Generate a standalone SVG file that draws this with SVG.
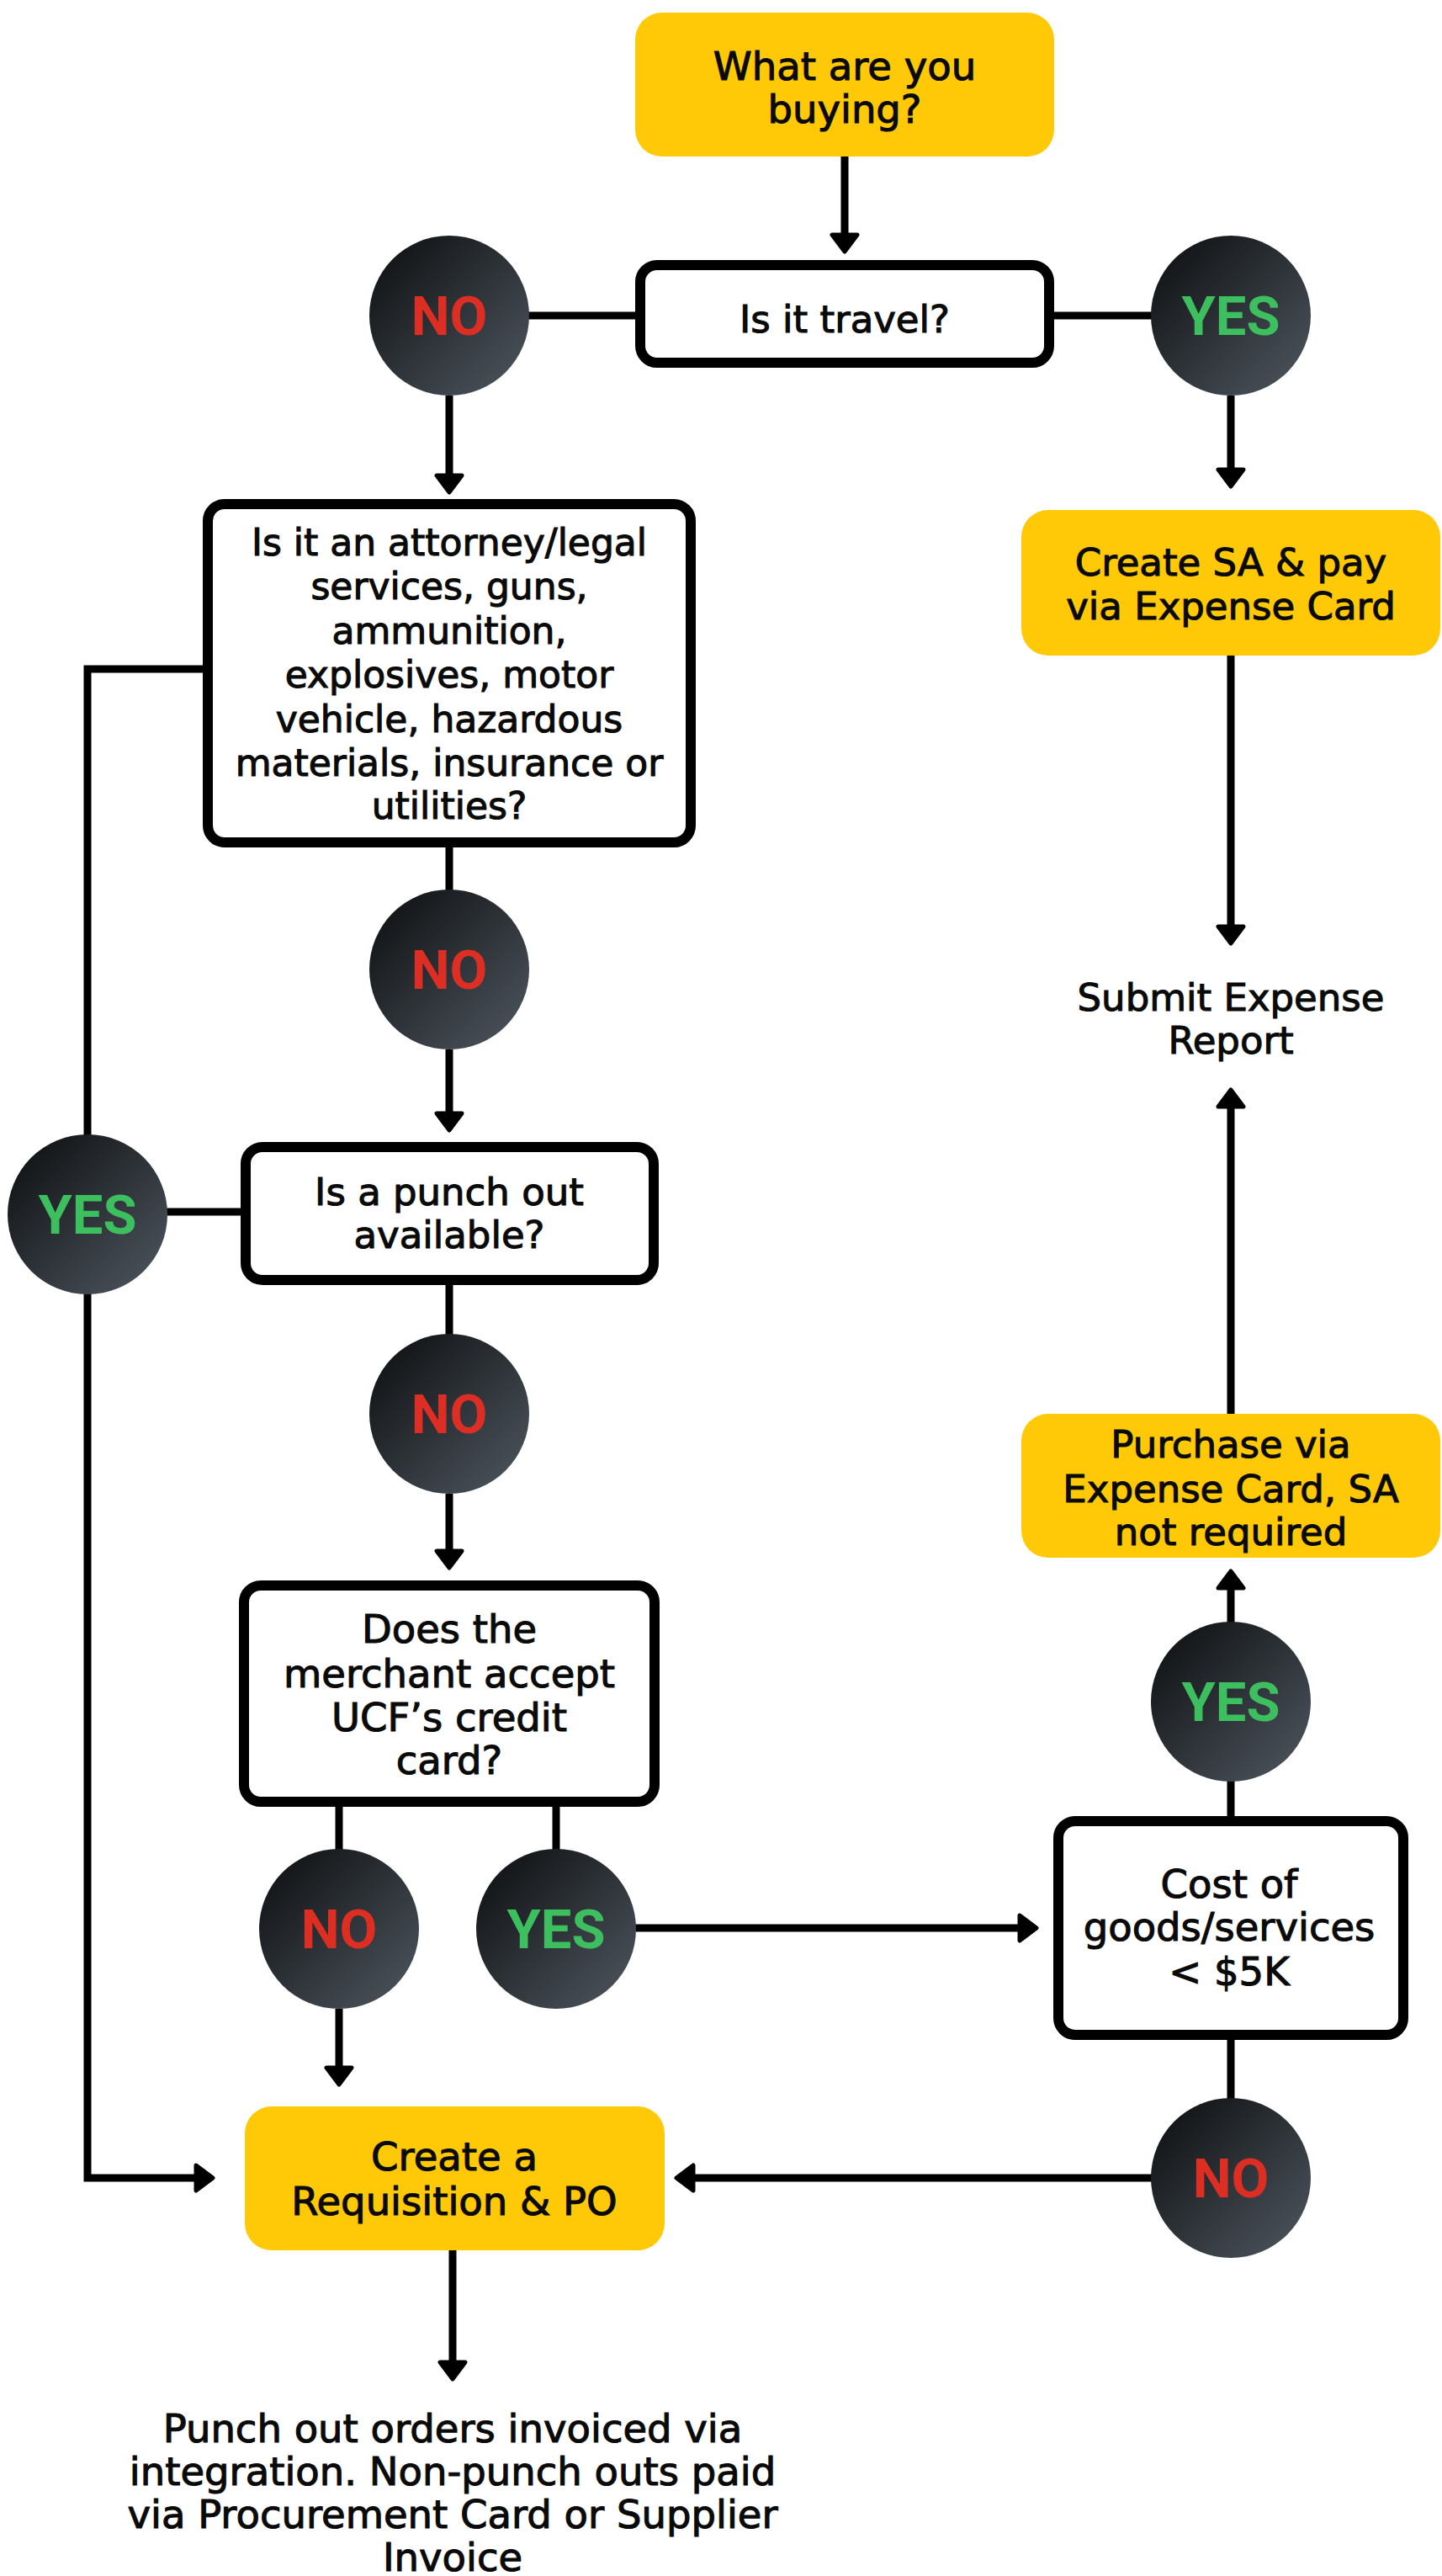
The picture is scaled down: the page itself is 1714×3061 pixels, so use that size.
<svg xmlns="http://www.w3.org/2000/svg" width="1714" height="3061" viewBox="0 0 1714 3061">
  <style>
    .t { font-family: "DejaVu Sans", "Liberation Sans", sans-serif; font-size: 45px; fill: #0a0a0a; text-anchor: middle; stroke: #0a0a0a; stroke-width: 1.1px; }
    .s { font-size: 44px; }
    .l { font-size: 46.5px; }
    .yb { fill: #FFC907; }
    .wb { fill: #ffffff; stroke: #000; stroke-width: 12; }
    .c { fill: url(#cg); }
    .no { font-family: Roboto, "Liberation Sans", sans-serif; font-weight: 700; font-size: 65px; fill: #DC2E23; text-anchor: middle; }
    .yes { font-family: Roboto, "Liberation Sans", sans-serif; font-weight: 700; font-size: 65px; fill: #3DBF5F; text-anchor: middle; }
    .ln { fill: none; stroke: #000; stroke-width: 9; }
    .ar { marker-end: url(#ah); }
  </style>
  <defs>
    <linearGradient id="cg" x1="0" y1="0" x2="1" y2="1">
      <stop offset="0.1" stop-color="#121416"/>
      <stop offset="1" stop-color="#4F5861"/>
    </linearGradient>
    <marker id="ah" markerUnits="userSpaceOnUse" markerWidth="40" markerHeight="40" refX="0" refY="0" orient="auto" overflow="visible">
      <path d="M0,-15 L20,0 L0,15 Z" fill="#000" stroke="#000" stroke-width="5" stroke-linejoin="round"/>
    </marker>
  </defs>

  <g id="connectors">
    <path class="ln ar" d="M1004,186 V279"/>
    <path class="ln" d="M600,375 H761"/>
    <path class="ln" d="M1247,375 H1400"/>
    <path class="ln ar" d="M534,470 V565"/>
    <path class="ln ar" d="M247,795 H104 V2588 H233"/>
    <path class="ln" d="M534,1001 V1100"/>
    <path class="ln ar" d="M534,1247 V1323"/>
    <path class="ln" d="M180,1440 H292"/>
    <path class="ln" d="M534,1521 V1620"/>
    <path class="ln ar" d="M534,1775 V1843"/>
    <path class="ln" d="M403,2141 V2220"/>
    <path class="ln" d="M661,2141 V2220"/>
    <path class="ln ar" d="M403,2387 V2457"/>
    <path class="ln ar" d="M740,2291 H1212"/>
    <path class="ln" d="M1463,2164 V2090"/>
    <path class="ln ar" d="M1463,1950 V1887"/>
    <path class="ln ar" d="M1463,1680 V1315"/>
    <path class="ln ar" d="M1463,470 V558"/>
    <path class="ln ar" d="M1463,779 V1101"/>
    <path class="ln" d="M1463,2418 V2520"/>
    <path class="ln ar" d="M1400,2588 H824"/>
    <path class="ln ar" d="M538,2674 V2807"/>
  </g>

  <g id="start">
    <rect class="yb" x="755" y="15" width="498" height="171" rx="32"/>
    <text class="t l" x="1004" y="95">What are you</text>
    <text class="t l" x="1004" y="146">buying?</text>
  </g>

  <g id="travel">
    <rect class="wb" x="761" y="315" width="486" height="116" rx="20"/>
    <text class="t" x="1004" y="395">Is it travel?</text>
  </g>

  <g id="travel-no">
    <circle class="c" cx="534" cy="375" r="95"/>
    <text class="no" x="534" y="398">NO</text>
  </g>

  <g id="travel-yes">
    <circle class="c" cx="1463" cy="375" r="95"/>
    <text class="yes" x="1463" y="398">YES</text>
  </g>

  <g id="restricted">
    <rect class="wb" x="247" y="599" width="574" height="402" rx="20"/>
    <text class="t s" x="534" y="660">Is it an attorney/legal</text>
    <text class="t s" x="534" y="712">services, guns,</text>
    <text class="t s" x="534" y="765">ammunition,</text>
    <text class="t s" x="534" y="817">explosives, motor</text>
    <text class="t s" x="534" y="870">vehicle, hazardous</text>
    <text class="t s" x="534" y="922">materials, insurance or</text>
    <text class="t s" x="534" y="973">utilities?</text>
  </g>

  <g id="restricted-no">
    <circle class="c" cx="534" cy="1152" r="95"/>
    <text class="no" x="534" y="1175">NO</text>
  </g>

  <g id="restricted-yes">
    <circle class="c" cx="104" cy="1443" r="95"/>
    <text class="yes" x="104" y="1466">YES</text>
  </g>

  <g id="punchout">
    <rect class="wb" x="292" y="1363" width="485" height="158" rx="20"/>
    <text class="t" x="534" y="1432">Is a punch out</text>
    <text class="t" x="534" y="1483">available?</text>
  </g>

  <g id="punchout-no">
    <circle class="c" cx="534" cy="1680" r="95"/>
    <text class="no" x="534" y="1703">NO</text>
  </g>

  <g id="merchant">
    <rect class="wb" x="290" y="1884" width="488" height="257" rx="20"/>
    <text class="t l" x="534" y="1952">Does the</text>
    <text class="t l" x="534" y="2005">merchant accept</text>
    <text class="t l" x="534" y="2057">UCF’s credit</text>
    <text class="t l" x="534" y="2108">card?</text>
  </g>

  <g id="merchant-no">
    <circle class="c" cx="403" cy="2292" r="95"/>
    <text class="no" x="403" y="2315">NO</text>
  </g>

  <g id="merchant-yes">
    <circle class="c" cx="661" cy="2292" r="95"/>
    <text class="yes" x="661" y="2315">YES</text>
  </g>

  <g id="cost">
    <rect class="wb" x="1258" y="2164" width="410" height="254" rx="20"/>
    <text class="t l" x="1461" y="2255">Cost of</text>
    <text class="t l" x="1461" y="2306">goods/services</text>
    <text class="t l" x="1461" y="2359">&lt; $5K</text>
  </g>

  <g id="cost-yes">
    <circle class="c" cx="1463" cy="2022" r="95"/>
    <text class="yes" x="1463" y="2045">YES</text>
  </g>

  <g id="cost-no">
    <circle class="c" cx="1463" cy="2588" r="95"/>
    <text class="no" x="1463" y="2611">NO</text>
  </g>

  <g id="purchase">
    <rect class="yb" x="1214" y="1680" width="498" height="171" rx="32"/>
    <text class="t" x="1463" y="1732">Purchase via</text>
    <text class="t" x="1463" y="1785">Expense Card, SA</text>
    <text class="t" x="1463" y="1836">not required</text>
  </g>

  <g id="create-sa">
    <rect class="yb" x="1214" y="606" width="498" height="173" rx="32"/>
    <text class="t" x="1463" y="684">Create SA &amp; pay</text>
    <text class="t" x="1463" y="736">via Expense Card</text>
  </g>

  <g id="submit">
    <text class="t" x="1463" y="1201">Submit Expense</text>
    <text class="t" x="1463" y="1252">Report</text>
  </g>

  <g id="requisition">
    <rect class="yb" x="291" y="2503" width="499" height="171" rx="32"/>
    <text class="t l" x="540" y="2579">Create a</text>
    <text class="t l" x="540" y="2632">Requisition &amp; PO</text>
  </g>

  <g id="final">
    <text class="t l" x="538" y="2902">Punch out orders invoiced via</text>
    <text class="t l" x="538" y="2953">integration. Non-punch outs paid</text>
    <text class="t l" x="538" y="3004">via Procurement Card or Supplier</text>
    <text class="t l" x="538" y="3055">Invoice</text>
  </g>
</svg>
